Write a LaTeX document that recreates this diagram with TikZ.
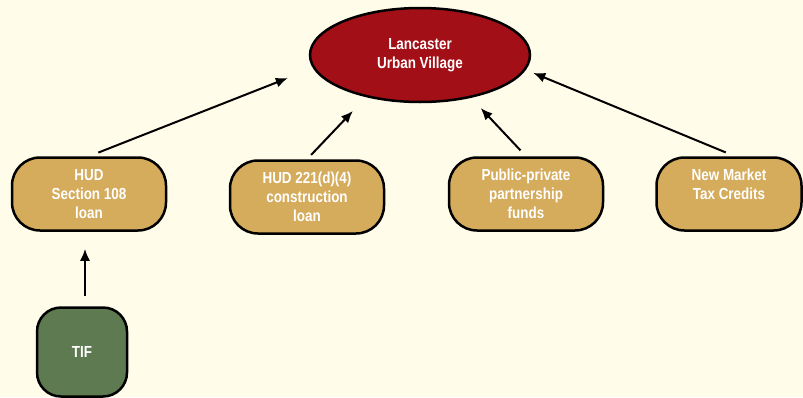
\documentclass[tikz,border=0pt]{standalone}
\usepackage{fontspec}
\setmainfont{Liberation Sans}[FakeStretch=0.84]
\usetikzlibrary{arrows.meta,shapes.geometric}
\definecolor{bgcream}{HTML}{FFFCEA}
\definecolor{villagered}{HTML}{A30F16}
\definecolor{fundtan}{HTML}{D5AB5C}
\definecolor{tifgreen}{HTML}{5E7A51}
\tikzset{
  boxtext/.style={text=white, font=\bfseries\fontsize{16}{19}\selectfont, align=center, inner sep=0pt},
  fundbox/.style={boxtext, draw=black, line width=2.5pt, fill=fundtan, rectangle, rounded corners=28pt,
    minimum width=154pt, minimum height=73pt},
  arr/.style={-{Latex[length=12pt,width=10pt]}, line width=2pt}
}
\begin{document}
\begin{tikzpicture}[x=1pt,y=-1pt]
  % background
  \fill[bgcream] (0,0) rectangle (803,397);
  \useasboundingbox (0,0) rectangle (803,397);

  % Lancaster Urban Village
  \node[boxtext, ellipse, draw=black, line width=2.5pt, fill=villagered,
    minimum width=220pt, minimum height=94pt] (lv) at (420,55) {Lancaster\\Urban Village};

  % Funding sources
  \node[fundbox] (h108) at (89,194) {HUD\\Section 108\\loan};
  \node[fundbox] (h221) at (307,197) {HUD 221(d)(4)\\construction\\loan};
  \node[fundbox] (ppp) at (526,194) {Public-private\\partnership\\funds};
  % two lines only, kept at the top like the others
  \node[fundbox, minimum width=145pt, text depth=20pt] (nmtc) at (729,194) {New Market\\Tax Credits};

  % TIF
  \node[boxtext, draw=black, line width=2.5pt, fill=tifgreen, rounded corners=24pt,
    minimum width=90pt, minimum height=89pt] (tif) at (82,352) {TIF};

  % Arrows
  \draw[arr, shorten <=10pt, shorten >=27pt] (h108.north) -- (lv.187);
  \draw[arr, shorten <=6pt, shorten >=19pt] (h221.north) -- (lv.218);
  \draw[arr, shorten <=8pt, shorten >=14pt] (ppp.north) -- (lv.320);
  \draw[arr, shorten <=10pt, shorten >=8pt] ([xshift=6pt]nmtc.north) -- (lv.352);
  \draw[arr, shorten <=10pt, shorten >=17pt] ([xshift=3pt]tif.north) -- ([xshift=3pt]tif.north |- h108.south);
\end{tikzpicture}
\end{document}
